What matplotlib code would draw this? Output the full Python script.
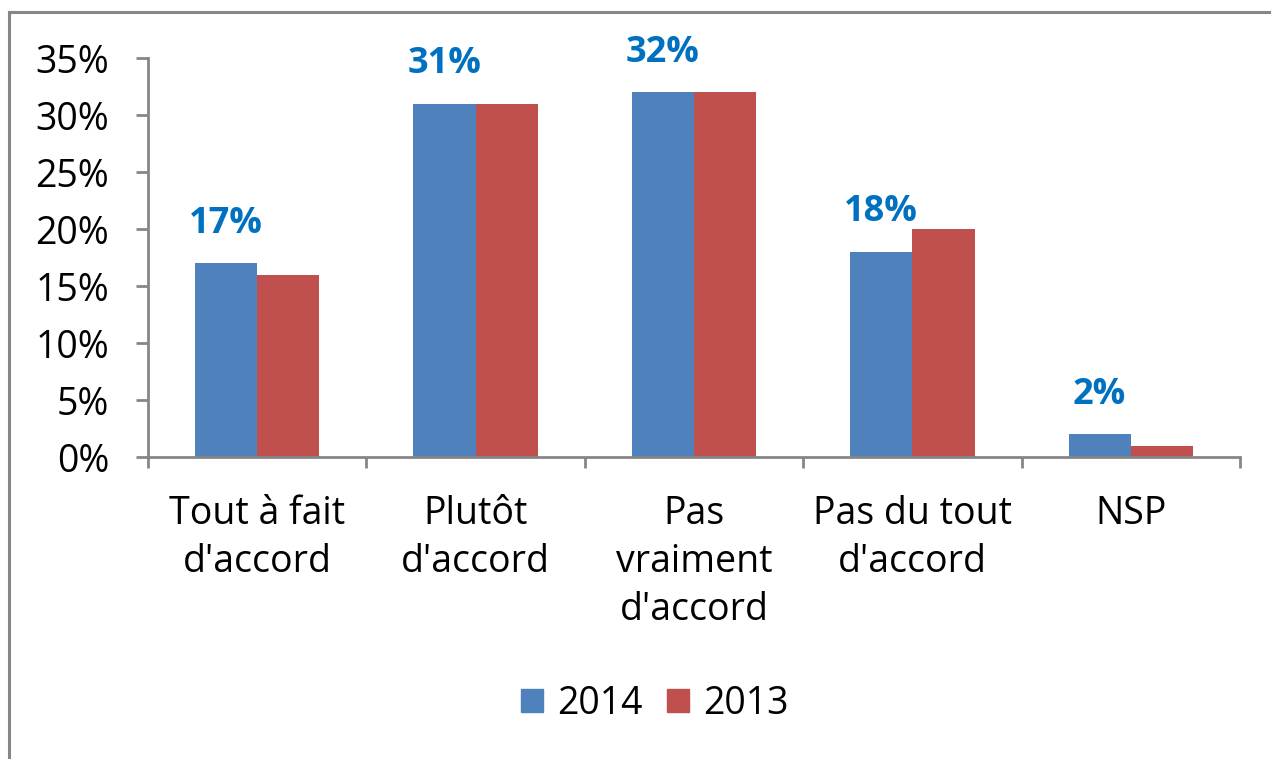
import matplotlib
matplotlib.use("Agg")
import matplotlib.pyplot as plt
from matplotlib.lines import Line2D
from matplotlib.patches import Patch
import numpy as np

categories = ["Tout à fait\nd'accord", "Plutôt\nd'accord", "Pas\nvraiment\nd'accord",
              "Pas du tout\nd'accord", "NSP"]
values_2014 = [17, 31, 32, 18, 2]
values_2013 = [16, 31, 32, 20, 1]
series_names = ["2014", "2013"]
yticks = [0, 5, 10, 15, 20, 25, 30, 35]

plt.rcParams['font.family'] = ['Open Sans', 'DejaVu Sans']

W, H, DPI = 1271, 759, 100
fig = plt.figure(figsize=(W / DPI, H / DPI), dpi=DPI)
ax = fig.add_axes([148 / W, 1 - 457 / H, (1240 - 148) / W, (457 - 58) / H])

blue = "#4F81BD"
red = "#C0504D"
gray = "#868686"
FS = 27

x = np.arange(len(categories))
bw = 0.285
ax.bar(x - bw / 2, values_2014, bw, color=blue, edgecolor="none", zorder=2)
ax.bar(x + bw / 2, values_2013, bw, color=red, edgecolor="none", zorder=2)

for xi, v in zip(x, values_2014):
    ax.annotate(f"{v}%", (xi - bw / 2, v), xytext=(0, 15.5), textcoords="offset points",
                ha="center", va="bottom", fontsize=26, fontweight="bold", color="#0070C0")

ax.set_xlim(-0.5, len(categories) - 0.5)
ax.set_ylim(0, 35)
ax.set_yticks(yticks)
ax.set_yticklabels([f"{t}%" for t in yticks], fontsize=FS)
ax.set_xticks(np.arange(len(categories) + 1) - 0.5)
ax.set_xticklabels([])
ax.set_xticks(x, minor=True)
ax.set_xticklabels(categories, minor=True, fontsize=FS, linespacing=1.36)
ax.tick_params(axis="x", which="minor", length=0, pad=27)
ax.tick_params(axis="x", which="major", length=8, width=2, color=gray, direction="out")
ax.tick_params(axis="y", length=9, width=2, color=gray, direction="out", pad=19)

for s in ["top", "right"]:
    ax.spines[s].set_visible(False)
for s in ["left", "bottom"]:
    ax.spines[s].set_color(gray)
    ax.spines[s].set_linewidth(2)

handles = [Patch(color=blue), Patch(color=red)]
fig.legend(handles, series_names, loc="center", bbox_to_anchor=(655 / W, 1 - 704 / H),
           ncol=2, frameon=False, fontsize=FS, handlelength=0.58, handleheight=0.58,
           handletextpad=0.38, columnspacing=0.65)

# outer chart border (top and left visible)
fig.add_artist(Line2D([8.5 / W, 1.0], [1 - 11.5 / H, 1 - 11.5 / H], transform=fig.transFigure,
                      color=gray, lw=2.2))
fig.add_artist(Line2D([8.5 / W, 8.5 / W], [0, 1 - 11.5 / H], transform=fig.transFigure,
                      color=gray, lw=2.2))

fig.savefig("out.png", dpi=DPI)
